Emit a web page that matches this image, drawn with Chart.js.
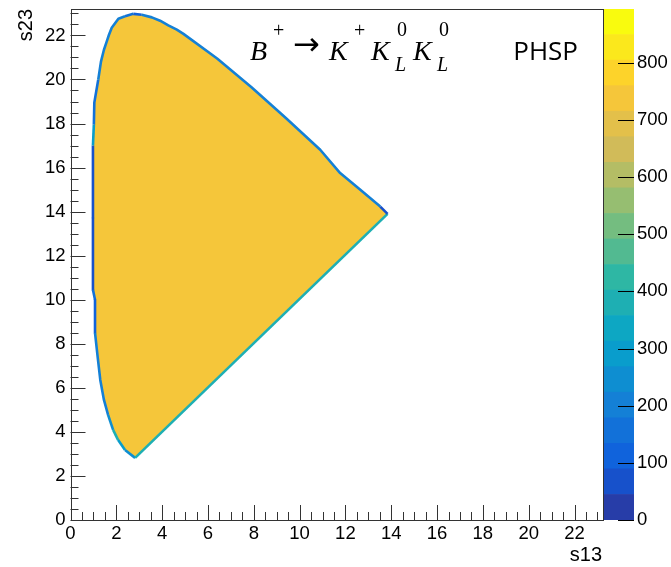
<!DOCTYPE html>
<html>
<head>
<meta charset="utf-8">
<script src="https://cdn.jsdelivr.net/npm/chart.js@4/dist/chart.umd.min.js"></script>
<style>
  html, body { margin: 0; padding: 0; background: #fff; }
  #wrap { position: relative; width: 671px; height: 567px; overflow: hidden; background: #fff; }
  #wrap canvas { position: absolute; left: 0; top: 0; }
</style>
</head>
<body>
<div id="wrap">
  <canvas id="plot" width="671" height="567"></canvas>
  <canvas id="zbar" width="671" height="567"></canvas>
</div>
<script>
// Upper boundary of the populated Dalitz region (s13, s23): from the middle of the
// left edge, over the top, down to the right-hand tip.
const s13Upper = [0.98, 0.98, 1.02, 1.04, 1.21, 1.33, 1.46, 1.58, 1.68, 1.80, 2.09, 2.38, 2.74,
                  3.11, 3.55, 3.91, 4.27, 4.64, 4.93, 6.40, 7.90, 9.40, 10.90, 11.77, 12.65, 13.52, 13.84];
const s23Upper = [13.70, 17.00, 17.95, 18.95, 19.99, 20.81, 21.35, 21.72, 22.03, 22.35, 22.76, 22.87, 22.98,
                  22.94, 22.82, 22.67, 22.46, 22.26, 22.07, 20.95, 19.65, 18.25, 16.81, 15.75, 14.99, 14.23, 13.90];
// Lower boundary: from the middle of the left edge, down to the bottom tip, then along
// the diagonal to the right-hand tip.
const s13Lower = [0.98, 0.98, 1.07, 1.07, 1.19, 1.30, 1.46, 1.64, 1.86, 2.08, 2.38, 2.82, 13.84];
const s23Lower = [13.70, 10.45, 10.00, 8.50, 7.36, 6.36, 5.45, 4.77, 4.09, 3.63, 3.18, 2.82, 13.90];
// Entries per bin in the partially covered bins along each boundary stretch
const upperEdgeCounts = [70, 300, 150, 160, 200, 200, 200, 220, 200, 220, 200, 150, 90,
                         180, 200, 180, 200, 220, 220, 220, 220, 220, 220, 220, 200, 80];
const lowerEdgeCounts = [70, 150, 130, 220, 180, 200, 220, 250, 380, 300, 250, 360];
// Typical entries per bin inside the allowed region
const bulkCount = 740;

const xTicks = [0, 2, 4, 6, 8, 10, 12, 14, 16, 18, 20, 22];
const yTicks = [0, 2, 4, 6, 8, 10, 12, 14, 16, 18, 20, 22];
const zTicks = [0, 100, 200, 300, 400, 500, 600, 700, 800];
const xMax = 23.2, yMax = 23.2, zMax = 894, nLevels = 20;

// ROOT "kBird" palette
const birdStops = [0.0, 0.125, 0.25, 0.375, 0.5, 0.625, 0.75, 0.875, 1.0];
const birdR = [0.2082, 0.0592, 0.0780, 0.0232, 0.1802, 0.5301, 0.8186, 0.9956, 0.9764];
const birdG = [0.1664, 0.3599, 0.5041, 0.6419, 0.7178, 0.7492, 0.7328, 0.7862, 0.9832];
const birdB = [0.5293, 0.8684, 0.8385, 0.7914, 0.6425, 0.4662, 0.3499, 0.1968, 0.0539];

function birdAt(f) {
  f = Math.max(0, Math.min(1, f));
  let k = 0;
  while (k < birdStops.length - 2 && f > birdStops[k + 1]) k++;
  const t = (f - birdStops[k]) / (birdStops[k + 1] - birdStops[k]);
  const c = a => Math.round(255 * (a[k] + t * (a[k + 1] - a[k])));
  return `rgb(${c(birdR)},${c(birdG)},${c(birdB)})`;
}
function levelColor(i) {
  const idx = Math.min(254, Math.floor((i + 0.99) * 255 / nLevels));
  return birdAt(idx / 254);
}
function countColor(v) {
  const i = Math.max(0, Math.min(nLevels - 1, Math.floor(v / (zMax / nLevels))));
  return levelColor(i);
}

const FONT = '"Liberation Sans", Arial, sans-serif';
const noOverflow = s => { s.paddingTop = 0; s.paddingBottom = 0; s.paddingLeft = 0; s.paddingRight = 0; };

// Frame, inward-pointing major/minor ticks and the decay label
const frameTicks = {
  id: 'frameTicks',
  afterDatasetsDraw(chart) {
    const { ctx, chartArea: a, scales: { x, y } } = chart;
    ctx.save();
    ctx.strokeStyle = '#333';
    ctx.lineWidth = 1;
    ctx.strokeRect(Math.round(a.left) + 0.5, Math.round(a.top) + 0.5,
                   Math.round(a.right - a.left), Math.round(a.bottom - a.top));
    ctx.beginPath();
    for (let v = 0; v <= x.max + 1e-9; v += 0.5) {
      const px = Math.round(x.getPixelForValue(v)) + 0.5;
      const len = Math.abs(v / 2 - Math.round(v / 2)) < 1e-9 ? 15 : 8;
      ctx.moveTo(px, a.bottom);
      ctx.lineTo(px, a.bottom - len);
    }
    for (let v = 0; v <= y.max + 1e-9; v += 0.5) {
      const py = Math.round(y.getPixelForValue(v)) + 0.5;
      const len = Math.abs(v / 2 - Math.round(v / 2)) < 1e-9 ? 15 : 8;
      ctx.moveTo(a.left, py);
      ctx.lineTo(a.left + len, py);
    }
    ctx.stroke();

    ctx.fillStyle = '#000';
    ctx.textBaseline = 'alphabetic';
    ctx.textAlign = 'left';
    const it = 'italic 28px "Liberation Serif", serif';
    const up = '20px "Liberation Serif", serif';
    const sub = 'italic 20px "Liberation Serif", serif';
    const parts = [
      ['B', it, 250, 60], ['+', up, 273, 37],
      ['K', it, 329, 60], ['+', up, 354, 37],
      ['K', it, 371, 60], ['0', up, 397, 36], ['L', sub, 395, 71],
      ['K', it, 413, 60], ['0', up, 439, 36], ['L', sub, 437, 71]
    ];
    for (const [t, f, px, py] of parts) { ctx.font = f; ctx.fillText(t, px, py); }
    ctx.font = '32px "DejaVu Sans", sans-serif';
    ctx.textBaseline = 'middle';
    ctx.fillText('\u2192', 293, 47);
    ctx.textBaseline = 'alphabetic';
    ctx.textAlign = 'right';
    ctx.font = '26px "Open Sans", sans-serif';
    ctx.fillText('PHSP', 578, 60);
    ctx.restore();
  }
};

const toPoints = (xs, ys) => xs.map((v, i) => ({ x: v, y: ys[i] }));
const lineBase = { showLine: true, pointRadius: 0, tension: 0, borderJoinStyle: 'round' };

new Chart(document.getElementById('plot'), {
  type: 'scatter',
  data: {
    datasets: [
      // filled body: area between the upper and the lower boundary
      { ...lineBase, data: toPoints(s13Upper, s23Upper), fill: '+1',
        backgroundColor: countColor(bulkCount), borderWidth: 0 },
      { ...lineBase, data: toPoints(s13Lower, s23Lower), fill: false, borderWidth: 0 },
      // partially covered bins along the boundary
      { ...lineBase, data: toPoints(s13Upper, s23Upper), fill: false, borderWidth: 2.6,
        segment: { borderColor: c => countColor(upperEdgeCounts[c.p0DataIndex]) } },
      { ...lineBase, data: toPoints(s13Lower, s23Lower), fill: false, borderWidth: 2.6,
        segment: { borderColor: c => countColor(lowerEdgeCounts[c.p0DataIndex]) } }
    ]
  },
  options: {
    responsive: false,
    animation: false,
    events: [],
    layout: { padding: { top: 9, right: 69, left: 0, bottom: 0 } },
    plugins: {
      legend: { display: false }, tooltip: { enabled: false },
      filler: { drawTime: 'beforeDatasetsDraw' }
    },
    scales: {
      x: {
        type: 'linear', position: 'bottom', min: 0, max: xMax,
        afterBuildTicks: s => { s.ticks = xTicks.map(v => ({ value: v })); },
        afterFit: s => { s.height = 47; noOverflow(s); },
        grid: { display: false, drawTicks: false }, border: { display: false },
        ticks: { font: { family: FONT, size: 18.5 }, color: '#000', padding: 3, maxRotation: 0, autoSkip: false },
        title: { display: true, text: 's13', align: 'end', color: '#000',
                 font: { family: FONT, size: 20, lineHeight: 1.2 }, padding: { top: 0, bottom: 0 } }
      },
      y: {
        type: 'linear', position: 'left', min: 0, max: yMax,
        afterBuildTicks: s => { s.ticks = yTicks.map(v => ({ value: v })); },
        afterFit: s => { s.width = 70.5; noOverflow(s); },
        grid: { display: false, drawTicks: false }, border: { display: false },
        ticks: { font: { family: FONT, size: 18.5 }, color: '#000', padding: 5, autoSkip: false },
        title: { display: true, text: 's23', align: 'end', color: '#000',
                 font: { family: FONT, size: 20, lineHeight: 1.2 }, padding: { top: 14, bottom: 0 } }
      }
    }
  },
  plugins: [frameTicks]
});

// Colour scale
const zTickMarks = {
  id: 'zTickMarks',
  afterDatasetsDraw(chart) {
    const { ctx, chartArea: a, scales: { y } } = chart;
    ctx.save();
    ctx.strokeStyle = '#000';
    ctx.lineWidth = 1;
    ctx.beginPath();
    for (const v of zTicks) {
      const py = Math.round(y.getPixelForValue(v)) + 0.5;
      ctx.moveTo(a.right - 16, py);
      ctx.lineTo(a.right, py);
    }
    ctx.stroke();
    ctx.restore();
  }
};

new Chart(document.getElementById('zbar'), {
  type: 'bar',
  data: {
    labels: [''],
    datasets: Array.from({ length: nLevels }, (_, i) => ({
      data: [zMax / nLevels],
      backgroundColor: levelColor(i),
      borderWidth: 0,
      barPercentage: 1,
      categoryPercentage: 1
    }))
  },
  options: {
    responsive: false,
    animation: false,
    events: [],
    layout: { padding: { top: 9, right: 0, left: 604, bottom: 47 } },
    plugins: { legend: { display: false }, tooltip: { enabled: false } },
    scales: {
      x: { stacked: true, display: false },
      y: {
        stacked: true, position: 'right', min: 0, max: zMax,
        afterBuildTicks: s => { s.ticks = zTicks.map(v => ({ value: v })); },
        afterFit: s => { s.width = 37; noOverflow(s); },
        grid: { display: false, drawTicks: false }, border: { display: false },
        ticks: { font: { family: FONT, size: 18.5 }, color: '#000', padding: 3, autoSkip: false }
      }
    }
  },
  plugins: [zTickMarks]
});
</script>
</body>
</html>
